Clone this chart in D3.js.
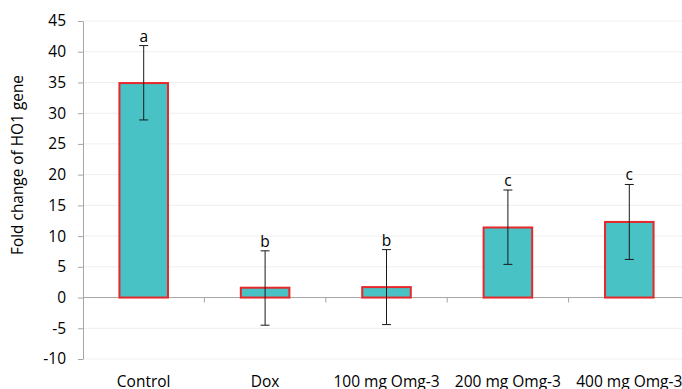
<!doctype html>
<html>
<head>
<meta charset="utf-8">
<title>HO1 fold change</title>
<style>
    body { margin: 0; background: #fff; }
    svg text { font-family: "Open Sans", "Noto Sans", sans-serif; fill: #000; }
    .grid line { stroke: #efefef; stroke-width: 1px; }
    .axis path, .axis line { stroke: #a6a6a6; }
    .bar { fill: #48c2c5; stroke: #e8272a; stroke-width: 2px; }
    .err { stroke: #1a1a1a; stroke-width: 1px; fill: none; }
</style>
</head>
<body>
<svg id="plot" width="682" height="389"></svg>

<script src="https://d3js.org/d3.v7.min.js"></script>
<script>
const groups = ["Control", "Dox", "100 mg Omg-3", "200 mg Omg-3", "400 mg Omg-3"];
const means = [34.9, 1.6, 1.7, 11.4, 12.3];
const errLow = [28.9, -4.5, -4.4, 5.4, 6.2];
const errHigh = [41.0, 7.6, 7.8, 17.5, 18.4];
const letters = ["a", "b", "b", "c", "c"];
const yTicks = [-10, -5, 0, 5, 10, 15, 20, 25, 30, 35, 40, 45];

let svg = d3.select("svg"),
    margin = {top: 21, right: -8, bottom: 30, left: 83},
    width = +svg.attr("width") - margin.left - margin.right,
    height = +svg.attr("height") - margin.top - margin.bottom,
    g = svg.append("g").attr("transform", "translate(" + margin.left + "," + margin.top + ")");

let x = d3.scaleBand()
    .domain(groups)
    .range([0, width])
    .paddingInner(0.6)
    .paddingOuter(0.3);

let y = d3.scaleLinear()
    .domain([-10, 45])
    .range([height, 0]);

// gridlines
g.append("g")
    .attr("class", "grid")
    .selectAll("line")
    .data(yTicks)
    .enter().append("line")
    .attr("x1", 0)
    .attr("x2", width)
    .attr("y1", d => y(d))
    .attr("y2", d => y(d));

// y axis (plain hyphen for negatives, like the original)
let yAxis = g.append("g")
    .attr("class", "axis axis--y")
    .call(d3.axisLeft(y).tickValues(yTicks).tickFormat(d => String(d)).tickSize(5).tickSizeOuter(0));
yAxis.selectAll("text").style("font-size", "15.5px").attr("x", -17);

// x axis at zero, ticks between categories
let step = x.step();
let xAxis = g.append("g")
    .attr("class", "axis axis--x")
    .attr("transform", "translate(0," + y(0) + ")");
xAxis.append("line")
    .attr("x1", 0).attr("x2", width)
    .attr("y1", 0).attr("y2", 0);
xAxis.selectAll(".sep")
    .data(groups.slice(1))
    .enter().append("line")
    .attr("class", "sep")
    .attr("x1", d => x(d) - (step - x.bandwidth()) / 2)
    .attr("x2", d => x(d) - (step - x.bandwidth()) / 2)
    .attr("y1", 0).attr("y2", 5);

// category labels
g.selectAll(".cat")
    .data(groups)
    .enter().append("text")
    .attr("class", "cat")
    .attr("x", d => x(d) + x.bandwidth() / 2)
    .attr("y", height + 28)
    .attr("text-anchor", "middle")
    .style("font-size", "15.5px")
    .text(d => d);

// bars
g.selectAll(".bar")
    .data(groups)
    .enter().append("rect")
    .attr("class", "bar")
    .attr("x", d => x(d))
    .attr("width", x.bandwidth())
    .attr("y", (d, i) => y(means[i]))
    .attr("height", (d, i) => y(0) - y(means[i]));

// error bars
let cx = d => x(d) + x.bandwidth() / 2;
let eb = g.selectAll(".eb").data(groups).enter().append("g").attr("class", "err");
eb.append("line")
    .attr("x1", cx).attr("x2", cx)
    .attr("y1", (d, i) => y(errLow[i]))
    .attr("y2", (d, i) => y(errHigh[i]));
eb.append("line")
    .attr("x1", d => cx(d) - 4.5).attr("x2", d => cx(d) + 4.5)
    .attr("y1", (d, i) => y(errLow[i]))
    .attr("y2", (d, i) => y(errLow[i]));
eb.append("line")
    .attr("x1", d => cx(d) - 4.5).attr("x2", d => cx(d) + 4.5)
    .attr("y1", (d, i) => y(errHigh[i]))
    .attr("y2", (d, i) => y(errHigh[i]));

// significance letters
g.selectAll(".sig")
    .data(groups)
    .enter().append("text")
    .attr("class", "sig")
    .attr("x", cx)
    .attr("y", (d, i) => y(errHigh[i]) - 4)
    .attr("text-anchor", "middle")
    .style("font-size", "15.5px")
    .text((d, i) => letters[i]);

// y title
svg.append("text")
    .attr("transform", "translate(23,165) rotate(-90)")
    .attr("text-anchor", "middle")
    .style("font-size", "15.4px")
    .text("Fold change of HO1 gene");
</script>
</body>
</html>
